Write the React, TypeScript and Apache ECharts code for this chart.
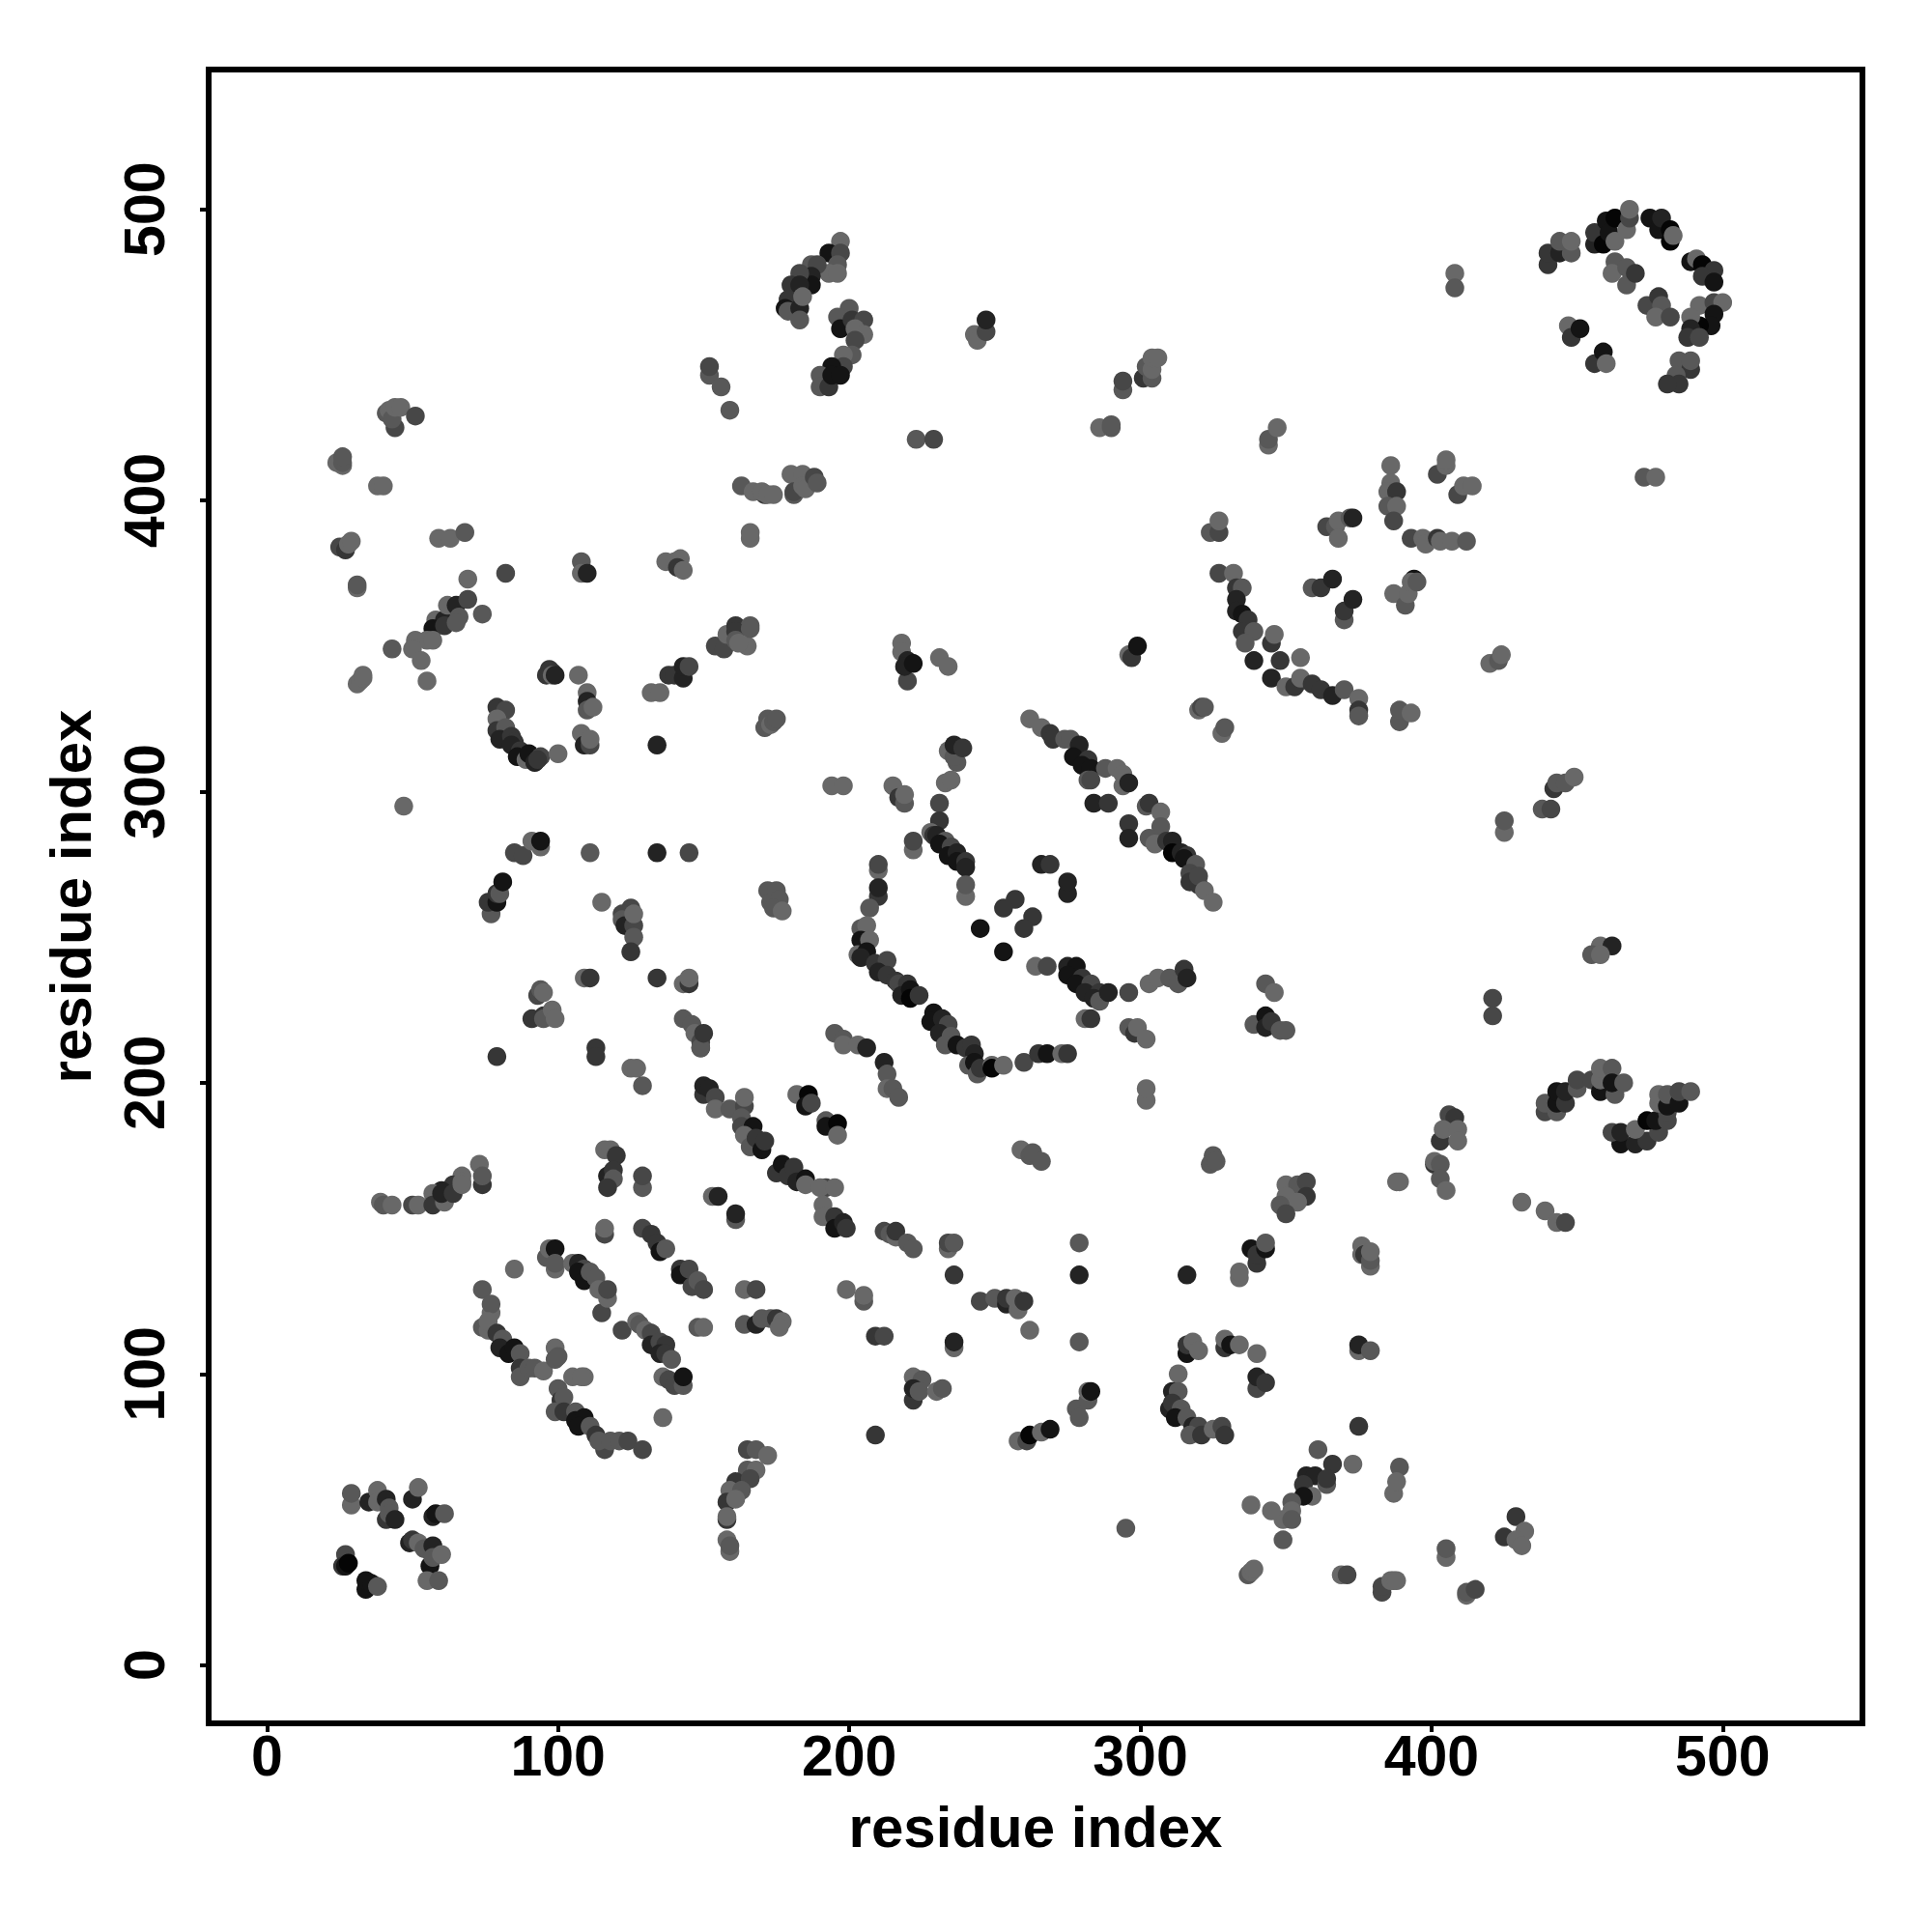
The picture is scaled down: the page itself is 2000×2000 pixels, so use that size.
import React, { useEffect, useRef } from "react";
import * as echarts from "echarts";

type P = [number, number, number]; // residue i, residue j, shade level (0 darkest .. 6 lightest)

const tickValues = [0, 100, 200, 300, 400, 500];
const shades = ["#050505", "#141414", "#232323", "#363636", "#474747", "#585858", "#686868"];

const upperLeft: P[] = [
  [152,443,5],[152,446,4],[156,439,5],[159,431,5],[44,425,4],[41,430,5],[42,431,6],[43,428,5],[44,432,6],[46,432,6],[51,429,4],
  [24,413,6],[26,412,6],[26,413,5],[26,415,5],[38,405,6],[40,405,6],[163,405,5],[167,403,6],[171,402,3],[170,403,6],[172,402,6],
  [174,402,6],[166,387,6],[166,389,6],[25,384,4],[27,383,3],[28,385,6],[29,386,6],[59,387,6],[63,387,6],[68,389,5],[82,375,4],
  [108,379,5],[108,375,6],[110,375,2],[137,379,6],[140,379,6],[142,380,6],[141,377,3],[143,376,6],[69,373,6],[31,370,6],[31,371,5],
  [58,359,6],[61,359,2],[62,364,6],[65,364,2],[66,360,5],[69,366,4],[74,361,5],[57,356,1],[61,357,3],[65,358,5],[51,352,6],[55,352,6],
  [57,352,6],[50,349,6],[43,349,5],[53,345,6],[55,338,6],[31,337,6],[32,338,6],[33,339,6],[33,340,6],
  [96,340,3],[97,342,3],[98,341,3],[98,340,6],[99,340,2],[107,340,6],[110,334,6],[110,331,2],[110,328,5],[112,329,6],[108,320,6],
  [109,316,2],[111,316,4],[111,318,6],
  [79,329,3],[82,328,4],[79,325,6],[79,321,3],[82,322,5],[80,318,2],[84,319,3],[85,317,3],[84,316,2],[87,314,3],[86,312,1],[89,311,6],
  [90,313,1],[92,310,2],[94,312,4],[93,311,3],[100,313,6],[134,316,2],[132,334,6],[135,334,6],[138,340,3],[140,340,3],[143,339,2],
  [143,343,2],[145,343,4],[154,350,4],[157,349,4],[158,354,6],[161,357,3],[166,357,5],[161,355,3],[165,350,6],[161,352,5],[162,351,6],[166,356,5],
  [171,322,5],[172,325,5],[173,323,6],[174,324,5],[175,325,5],[47,295,6],
];

const midLeft: P[] = [
  [85,279,4],[88,278,4],[91,283,6],[94,281,6],[94,283,1],[111,279,5],[134,279,2],[145,279,4],[77,258,5],[76,262,3],[79,262,1],[79,265,3],
  [80,265,5],[81,269,1],[115,262,6],[125,260,4],[122,258,4],[122,256,5],[123,254,2],[126,254,4],[126,258,6],[126,250,5],[125,245,3],
  [172,266,5],[173,262,5],[175,266,5],[176,263,5],[174,260,5],[177,259,6],[109,236,6],[111,236,3],[134,236,3],[143,234,6],[145,234,3],[145,236,6],
  [93,230,4],[94,232,5],[95,231,6],[91,222,3],[95,223,3],[95,222,5],[98,225,6],[99,222,6],[79,209,3],[113,212,3],[113,209,3],
  [125,205,6],[127,205,6],[129,199,5],[143,222,5],[146,220,5],[147,217,6],[149,212,3],[149,214,4],[149,212,5],[150,217,3],
  [150,196,3],[150,199,2],[152,198,2],[154,195,4],[154,191,6],[159,191,5],[164,192,4],[163,188,5],[164,195,6],[163,185,4],[167,185,1],
  [164,182,6],[166,178,5],[168,181,3],[170,177,1],[171,180,3],[175,169,3],[177,172,1],[179,168,3],[181,171,3],[182,166,2],[185,167,1],
  [185,165,6],[192,164,4],[190,164,6],[195,164,6],
  [116,177,6],[118,177,6],[120,175,3],[117,168,2],[119,170,3],[119,167,5],[117,164,3],[129,164,5],[129,168,4],[153,161,6],[155,161,2],[161,153,5],[161,155,2],
  [73,172,6],[67,168,6],[74,165,3],[74,168,5],[64,165,3],[67,166,6],[60,163,2],[57,162,6],[39,159,6],[40,158,5],[43,158,6],[50,158,4],[52,158,6],
  [57,158,3],[61,159,6],[60,162,2],[64,162,3],[67,165,6],
];

const lowerLeft: P[] = [
  [116,148,4],[116,150,6],[85,136,6],[74,129,5],[77,121,6],[77,124,5],[74,116,5],[76,115,6],[76,118,6],[79,114,3],[81,112,5],[80,109,2],[83,107,1],
  [85,109,1],[87,107,5],[87,102,3],[87,99,5],[90,102,5],[92,102,5],[95,101,6],[99,109,6],[99,105,5],[100,106,5],[105,99,6],[109,99,6],[108,99,6],
  [96,140,5],[97,143,6],[99,143,1],[99,136,6],[99,138,5],[105,138,6],[107,138,2],[109,136,4],[107,135,1],[109,132,1],[111,135,5],[113,133,5],
  [115,121,4],[114,129,6],[117,126,6],[117,129,4],[129,150,4],[132,148,3],[134,145,3],[135,142,1],[137,143,5],
  [142,136,3],[142,134,1],[145,136,4],[146,130,4],[148,132,5],[150,129,4],[164,129,6],[168,129,4],[148,116,5],[150,116,6],[164,117,5],[168,117,2],
  [170,119,5],[173,119,5],[175,119,3],[177,118,6],[176,116,6],[122,115,4],[127,118,6],[128,117,5],[130,115,6],[132,114,4],[132,110,2],[135,111,4],
  [137,110,3],[135,107,2],[137,107,3],[139,105,5],[136,99,6],[138,98,4],[140,96,4],[143,96,5],[143,99,1],[136,85,6],
  [100,95,5],[101,91,3],[102,92,5],[99,87,5],[102,87,3],[106,87,5],[106,84,1],[109,85,1],[107,82,1],[111,82,5],[113,79,3],[116,74,4],[114,77,5],[118,77,5],
  [121,77,5],[124,77,4],[129,74,4],
  [29,55,6],[29,59,5],[35,56,2],[38,60,6],[38,56,6],[41,57,2],[41,50,3],[42,54,5],[42,52,5],[44,50,2],[50,57,2],[52,61,6],[57,51,2],[58,52,1],[61,52,5],
  [49,42,2],[50,43,3],[52,42,6],[54,40,5],[56,34,1],[57,41,2],[57,37,5],[60,38,6],[55,29,6],[59,29,5],[27,38,4],[26,34,3],[27,34,1],[28,35,0],
  [34,26,1],[34,29,1],[36,28,1],[38,27,5],
  [165,74,4],[168,74,5],[172,72,6],[165,67,5],[168,67,6],[161,63,3],[166,64,4],[159,60,6],[163,60,5],[158,56,3],[161,57,6],[158,50,3],[158,51,6],
  [158,43,6],[159,39,6],[159,41,5],
];

const topMiddle: P[] = [
  [197,489,6],[193,485,1],[197,485,4],[196,481,5],[193,478,6],[196,478,6],[187,481,5],[189,481,4],[187,477,2],[187,474,1],[183,478,4],[180,474,3],
  [183,474,2],[179,469,3],[178,466,1],[179,465,5],[183,466,2],[184,470,6],[183,462,5],
  [200,466,5],[196,463,5],[197,459,1],[201,462,3],[205,462,4],[202,459,6],[205,457,6],[202,455,4],[201,450,5],[198,450,6],[198,446,4],[194,446,1],
  [190,443,5],[190,439,5],[193,439,3],[194,443,1],[197,443,1],[243,457,6],[244,455,6],[247,458,4],[247,462,2],
  [294,438,5],[294,441,4],[301,442,3],[304,442,5],[302,446,5],[304,445,6],[304,449,6],[306,449,6],[286,425,6],[290,425,5],[290,426,5],[223,421,5],[229,421,4],
  [344,419,6],[344,421,5],[347,425,6],[180,409,6],[184,409,6],[181,402,5],[181,403,4],[184,405,6],[185,404,6],[188,408,4],[189,406,5],
  [324,389,5],[327,389,4],[327,393,6],[327,375,4],[332,375,6],[333,370,3],[335,370,5],[333,366,2],[333,362,2],[335,361,1],[337,359,3],[335,355,3],
  [339,355,5],[336,351,5],[345,351,3],[346,354,6],[339,345,2],[345,339,2],[348,345,3],[355,346,6],
];

const topRight: P[] = [
  [359,370,5],[362,370,3],[366,373,2],[370,359,5],[370,362,3],[373,366,2],[387,368,6],[391,364,5],[392,368,6],[394,373,1],[393,372,6],[395,372,5],
  [393,387,4],[397,387,6],[398,385,6],[402,387,3],[403,386,6],[407,386,6],[412,386,5],[402,409,4],[405,412,6],[405,414,6],[409,402,4],[411,405,6],[414,405,6],
  [386,412,6],[386,406,6],[385,403,6],[388,403,3],[385,398,5],[388,398,6],[387,393,4],[364,391,4],[367,391,5],[368,393,6],[368,387,6],[372,394,5],[373,394,2],
  [408,478,6],[408,473,5],[473,408,5],[477,408,6],
  [440,481,3],[440,485,3],[444,485,2],[444,489,5],[448,485,5],[448,489,6],[456,488,2],[456,492,3],[459,488,0],[460,496,1],[461,492,1],[463,497,0],[463,489,6],
  [467,493,6],[468,497,4],[468,500,6],[475,497,1],[478,493,1],[479,497,2],[482,489,0],[482,493,0],[483,491,6],
  [463,482,5],[462,478,6],[467,480,5],[467,474,5],[470,478,3],[474,467,4],[478,470,3],[479,467,5],[477,463,6],[482,463,4],
  [489,482,1],[491,483,6],[493,481,0],[497,479,3],[493,477,3],[497,475,1],[492,467,6],[497,468,4],[500,468,6],[497,464,1],[496,460,1],[492,460,0],
  [489,463,6],[489,459,2],[488,456,3],[492,456,4],[485,448,5],[489,445,3],[489,448,5],[484,443,5],[485,440,3],[481,440,3],
  [447,460,6],[448,456,3],[451,459,1],[456,447,3],[459,451,1],[460,447,6],
];

const center: P[] = [
  [218,351,6],[218,348,6],[220,345,2],[220,338,4],[219,343,2],[222,344,1],[231,346,6],[234,343,6],[296,347,6],[297,346,3],[299,350,1],
  [350,336,6],[355,338,5],[353,336,3],[355,339,6],[359,337,3],[362,335,3],[366,333,2],[370,335,5],[375,332,6],[375,328,3],[375,326,5],
  [389,324,5],[389,328,5],[393,327,6],[320,328,6],[321,329,4],[322,329,5],[328,320,6],[329,322,5],[420,344,6],[423,345,5],[424,347,6],
  [425,286,6],[425,290,5],[438,294,5],[441,294,4],[442,301,3],[443,303,5],[446,303,5],[449,305,6],
  [262,325,6],[266,322,6],[269,320,3],[270,318,3],[274,318,5],[276,318,5],[279,316,2],[277,312,1],[282,311,3],[280,309,1],[283,308,1],
  [282,304,5],[283,304,4],[288,308,5],[292,308,6],[294,306,6],[294,302,6],[296,303,2],
  [284,296,2],[289,296,3],[296,289,3],[296,284,2],[302,295,5],[303,296,3],[307,293,6],[307,288,5],[303,284,5],[305,282,6],[309,283,3],[311,283,2],
  [311,279,0],[314,279,2],[316,278,3],[315,277,1],[319,275,5],[317,272,4],[317,269,3],[320,268,3],[320,271,4],[322,266,6],[325,262,6],
  [231,296,4],[231,290,3],[233,303,6],[235,304,6],[234,314,6],[237,310,5],[236,312,5],[236,316,2],[239,315,3],
  [215,302,6],[217,298,3],[219,296,5],[219,299,6],[194,302,6],[198,302,6],
  [228,286,6],[229,285,3],[230,285,2],[233,283,5],[231,282,1],[235,281,4],[234,278,1],[237,279,2],[237,276,1],[240,276,3],[240,274,2],[222,280,6],[222,283,4],
  [210,273,6],[210,275,4],[210,264,3],[210,267,2],[207,260,5],[240,264,6],[240,268,5],[266,275,2],[269,275,3],[275,265,2],[275,269,2],
  [257,263,3],[253,260,3],[263,257,3],[260,253,3],[245,253,1],[253,245,1],
  [204,253,5],[206,254,6],[204,249,1],[207,249,6],[203,244,6],[206,245,1],[204,243,2],[209,241,3],[213,242,4],[210,238,2],[213,237,3],[216,235,3],[217,234,4],
  [220,234,3],[218,230,2],[221,232,1],[221,229,0],[224,230,3],
  [229,224,1],[228,221,1],[232,222,2],[234,220,4],[231,217,2],[235,216,5],[233,213,5],[237,213,1],[240,212,3],[242,213,3],[243,210,2],[241,206,5],[243,207,1],
  [244,203,5],[245,205,3],[249,206,6],[249,205,0],[253,206,6],[260,207,4],[265,210,3],[268,210,1],[273,210,6],[275,210,3],
  [264,240,6],[268,240,4],[275,240,2],[278,240,1],[275,237,1],[280,236,3],[278,234,1],[283,234,4],[281,231,2],[286,231,3],[284,229,2],[286,228,5],[289,231,2],[296,231,4],
  [281,222,6],[283,222,3],[303,234,6],[306,236,6],[310,236,5],[313,234,5],[315,239,3],[316,236,2],[343,234,5],[346,231,6],
  [296,219,5],[298,217,3],[299,219,6],[302,215,6],[339,220,5],[343,223,1],[343,219,2],[345,221,3],[348,218,5],[350,218,5],[302,194,6],[302,198,6],
  [195,217,5],[198,215,5],[198,213,6],[203,213,6],[206,212,2],[212,207,2],[213,203,5],[213,198,6],[215,198,5],[217,195,5],
  [182,196,6],[186,196,0],[185,192,1],[187,193,4],[192,187,5],[192,185,1],[196,186,0],[196,182,6],
  [259,177,6],[262,175,5],[263,176,5],[266,173,5],[325,175,5],[324,172,5],[326,173,5],
];

const rightSide: P[] = [
  [458,247,6],[462,247,2],[455,244,5],[458,244,6],[421,229,4],[421,223,4],
  [439,190,4],[439,193,5],[443,190,5],[443,193,1],[443,197,1],[446,193,3],[446,197,2],[450,198,5],[450,201,4],[455,201,4],[458,197,1],[458,201,6],[458,205,6],
  [462,205,5],[463,196,5],[462,200,1],[466,200,5],
  [465,179,1],[462,183,4],[465,183,2],[470,179,2],[474,180,3],[470,184,6],[478,183,4],[474,187,0],[477,187,1],[481,187,4],[481,190,4],[478,193,6],[478,196,6],
  [481,192,1],[481,196,5],[485,193,1],[485,197,4],[489,197,5],
  [388,166,6],[389,166,6],[406,189,4],[408,188,3],[403,180,3],[404,184,6],[409,184,6],[409,180,6],[401,172,3],[401,173,6],[403,172,5],[403,167,5],[405,163,6],
  [431,159,6],[439,156,6],[443,152,6],[446,152,4],
];

const lowerRight: P[] = [
  [376,141,6],[376,144,6],[377,141,3],[379,137,6],[379,139,5],[379,142,6],[375,108,6],[375,110,2],[379,108,5],[375,82,3],[389,68,5],[387,59,6],[388,63,6],[373,69,6],
  [361,74,5],[366,69,3],[357,65,2],[360,65,2],[364,62,5],[364,64,3],[356,62,3],[359,58,6],[356,58,1],[352,56,5],[352,53,6],[349,50,6],[352,50,5],
  [345,53,6],[338,55,6],[349,43,5],[337,31,5],[338,32,6],[339,33,6],[369,31,6],[371,31,4],[383,25,4],[383,27,4],[386,29,6],[387,29,6],[388,29,6],
  [405,37,6],[405,40,5],[412,24,6],[412,25,5],[415,26,4],[429,51,3],[425,44,3],[432,46,6],[429,43,6],[431,41,6],[295,47,5],
];

const lowerMiddle: P[] = [
  [191,158,6],[191,154,6],[195,154,3],[195,150,1],[198,152,2],[199,150,3],[212,149,4],[214,148,5],[216,147,6],[216,149,3],[220,145,5],[222,143,5],
  [234,143,6],[234,145,4],[236,145,5],[279,145,5],[236,134,3],[279,134,2],[316,134,2],[199,129,6],[205,125,5],[205,127,6],[334,133,6],[334,135,6],
  [338,143,1],[340,138,3],[340,141,3],[343,143,1],[343,145,5],
  [245,125,4],[250,126,5],[254,124,2],[254,126,3],[258,122,6],[257,126,6],[260,125,3],[262,115,6],[279,111,5],[236,109,6],[236,111,2],[209,113,3],[212,113,4],
  [316,107,1],[316,110,3],[318,111,6],[320,108,6],[329,109,3],[329,112,6],[331,110,1],[334,110,6],[340,107,6],[340,95,4],[340,99,2],[343,97,3],[313,100,6],
  [311,94,2],[313,94,5],[310,88,2],[311,90,3],[314,88,5],[312,85,1],[316,85,5],[318,82,2],[320,82,4],[317,79,5],[321,79,3],[325,81,6],[328,82,4],[329,79,3],
  [222,99,6],[225,98,5],[222,91,3],[222,95,2],[224,94,5],[230,94,6],[232,95,5],[209,79,3],[258,77,6],[261,77,4],[262,79,0],[266,80,6],[269,81,1],
  [278,88,5],[279,85,5],[282,91,5],[282,94,6],[283,94,1],
  [350,165,6],[354,165,5],[357,166,4],[357,161,3],[350,161,6],[354,159,6],[348,158,5],[350,155,4],
];

const allPoints: P[] = [
  ...upperLeft, ...midLeft, ...lowerLeft, ...topMiddle, ...topRight, ...center, ...rightSide, ...lowerRight, ...lowerMiddle,
];

const tickStyle = { fontFamily: "Liberation Sans", fontWeight: "bold" as const, fontSize: 59, color: "#000" };
const titleStyle = { ...tickStyle, fontSize: 60 };

export default function App() {
  const ref = useRef<HTMLDivElement>(null);
  useEffect(() => {
    document.body.style.margin = "0";
    const chart = echarts.init(ref.current!, null, { renderer: "svg" });
    const axisBase = {
      type: "value" as const,
      min: -20,
      max: 548,
      name: "residue index",
      nameLocation: "middle" as const,
      nameTextStyle: titleStyle,
      splitLine: { show: false },
      axisLine: { show: false, onZero: false },
      axisTick: { show: true, length: 9, customValues: tickValues, lineStyle: { color: "#000", width: 4 } },
    };
    chart.setOption({
      animation: false,
      backgroundColor: "#fff",
      grid: { left: 216, top: 72, width: 1712, height: 1712, show: true, borderColor: "#000", borderWidth: 6, backgroundColor: "#fff" },
      xAxis: { ...axisBase, nameGap: 77, axisLabel: { ...tickStyle, margin: 4, customValues: tickValues, formatter: (v: number) => String(v) } },
      yAxis: { ...axisBase, nameGap: 113, nameRotate: 90, axisLabel: { ...tickStyle, margin: 37, rotate: 90, customValues: tickValues, formatter: (v: number) => String(v) } },
      series: [
        {
          type: "scatter",
          data: allPoints,
          symbol: "circle",
          symbolSize: 19.5,
          encode: { x: 0, y: 1 },
          clip: false,
          itemStyle: { opacity: 1, color: (p: any) => shades[p.value[2]] },
        },
      ],
    });
    return () => chart.dispose();
  }, []);
  return <div ref={ref} style={{ width: 2000, height: 2000, position: "absolute", left: 0, top: 0 }} />;
}
